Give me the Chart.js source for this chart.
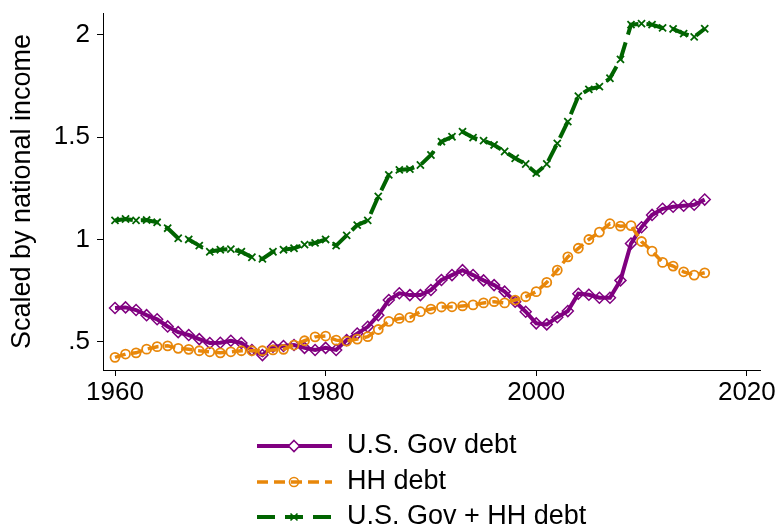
<!DOCTYPE html>
<html>
<head>
<meta charset="utf-8">
<script src="https://cdn.jsdelivr.net/npm/chart.js"></script>
<style>
  html, body { margin: 0; padding: 0; background: #fff; }
  canvas { display: block; }
</style>
</head>
<body>
<canvas id="chart" width="778" height="531"></canvas>
<script>
// years on the x axis
const years = [
  1960, 1961, 1962, 1963, 1964, 1965, 1966, 1967, 1968, 1969,
  1970, 1971, 1972, 1973, 1974, 1975, 1976, 1977, 1978, 1979,
  1980, 1981, 1982, 1983, 1984, 1985, 1986, 1987, 1988, 1989,
  1990, 1991, 1992, 1993, 1994, 1995, 1996, 1997, 1998, 1999,
  2000, 2001, 2002, 2003, 2004, 2005, 2006, 2007, 2008, 2009,
  2010, 2011, 2012, 2013, 2014, 2015, 2016
];

// U.S. Gov debt (scaled by national income)
const govDebt = [
  0.665, 0.668, 0.655, 0.630, 0.610, 0.575, 0.547, 0.533, 0.513, 0.494,
  0.495, 0.505, 0.494, 0.460, 0.435, 0.476, 0.479, 0.484, 0.470, 0.460,
  0.470, 0.460, 0.508, 0.540, 0.573, 0.630, 0.704, 0.737, 0.728, 0.728,
  0.753, 0.802, 0.826, 0.850, 0.826, 0.800, 0.777, 0.745, 0.696, 0.647,
  0.590, 0.585, 0.620, 0.650, 0.735, 0.730, 0.715, 0.715, 0.800, 0.980,
  1.060, 1.120, 1.150, 1.160, 1.165, 1.170, 1.195
];

// HH debt
const hhDebt = [
  0.424, 0.440, 0.446, 0.464, 0.476, 0.480, 0.468, 0.463, 0.456, 0.451,
  0.446, 0.451, 0.456, 0.456, 0.456, 0.460, 0.463, 0.484, 0.505, 0.524,
  0.528, 0.508, 0.503, 0.513, 0.525, 0.560, 0.600, 0.614, 0.619, 0.647,
  0.660, 0.670, 0.671, 0.675, 0.680, 0.690, 0.696, 0.690, 0.704, 0.720,
  0.745, 0.790, 0.850, 0.915, 0.957, 1.000, 1.036, 1.077, 1.065, 1.068,
  0.990, 0.943, 0.888, 0.870, 0.842, 0.826, 0.837
];

// U.S. Gov + HH debt
const totalDebt = [
  1.093, 1.100, 1.093, 1.095, 1.084, 1.055, 1.006, 1.000, 0.970, 0.940,
  0.950, 0.953, 0.940, 0.913, 0.905, 0.940, 0.950, 0.957, 0.975, 0.983,
  1.000, 0.970, 1.020, 1.070, 1.093, 1.210, 1.316, 1.340, 1.344, 1.364,
  1.413, 1.478, 1.502, 1.527, 1.498, 1.483, 1.462, 1.430, 1.397, 1.369,
  1.324, 1.369, 1.470, 1.576, 1.701, 1.734, 1.747, 1.788, 1.880, 2.050,
  2.055, 2.050, 2.034, 2.029, 2.006, 1.990, 2.030
];

const xTicks = [1960, 1980, 2000, 2020];
const yTicks = [0.5, 1, 1.5, 2];
const seriesNames = ["U.S. Gov debt", "HH debt", "U.S. Gov + HH debt"];

const FONT = "'Liberation Sans', Arial, sans-serif";
const PURPLE = "#800080";
const ORANGE = "#e8870a";
const GREEN = "#006400";

Chart.defaults.font.family = FONT;
Chart.defaults.color = "#000";

function pts(vals) {
  return years.map((y, i) => ({ x: y, y: vals[i] }));
}

// legend drawn below the plot, one entry per row
const stataLegend = {
  id: "stataLegend",
  afterDraw(chart) {
    const ctx = chart.ctx;
    const rows = [446, 482, 517];
    const x0 = 257, x1 = 332, mx = 294, tx = 347;
    const styles = [
      { color: PURPLE, width: 4, dash: [], marker: "diamond" },
      { color: ORANGE, width: 3.5, dash: [11, 6], marker: "circle" },
      { color: GREEN, width: 4, dash: [18, 10], marker: "cross" }
    ];
    ctx.save();
    styles.forEach((s, i) => {
      const y = rows[i];
      ctx.strokeStyle = s.color;
      ctx.lineWidth = s.width;
      ctx.setLineDash(s.dash);
      ctx.beginPath();
      ctx.moveTo(x0, y);
      ctx.lineTo(x1, y);
      ctx.stroke();
      ctx.setLineDash([]);
      ctx.lineWidth = 1.6;
      ctx.beginPath();
      if (s.marker === "diamond") {
        ctx.fillStyle = "#fff";
        ctx.moveTo(mx, y - 5.5);
        ctx.lineTo(mx + 5.5, y);
        ctx.lineTo(mx, y + 5.5);
        ctx.lineTo(mx - 5.5, y);
        ctx.closePath();
        ctx.fill();
        ctx.stroke();
      } else if (s.marker === "circle") {
        ctx.arc(mx, y, 4.5, 0, Math.PI * 2);
        ctx.stroke();
      } else {
        ctx.moveTo(mx - 3.5, y - 3.5); ctx.lineTo(mx + 3.5, y + 3.5);
        ctx.moveTo(mx - 3.5, y + 3.5); ctx.lineTo(mx + 3.5, y - 3.5);
        ctx.stroke();
      }
      ctx.fillStyle = "#000";
      ctx.font = "27px " + FONT;
      ctx.textBaseline = "middle";
      ctx.textAlign = "left";
      ctx.fillText(seriesNames[i], tx, y);
    });
    ctx.restore();
  }
};

new Chart(document.getElementById("chart"), {
  type: "line",
  data: {
    datasets: [
      {
        label: seriesNames[0],
        data: pts(govDebt),
        borderColor: PURPLE,
        borderWidth: 4,
        pointStyle: "rectRot",
        pointRadius: 5.5,
        pointBorderWidth: 1.5,
        pointBorderColor: PURPLE,
        pointBackgroundColor: "rgba(0,0,0,0)",
        order: 3
      },
      {
        label: seriesNames[1],
        data: pts(hhDebt),
        borderColor: ORANGE,
        borderWidth: 3.5,
        borderDash: [11, 6],
        pointStyle: "circle",
        pointRadius: 4.5,
        pointBorderWidth: 1.8,
        pointBorderColor: ORANGE,
        pointBackgroundColor: "rgba(0,0,0,0)",
        order: 2
      },
      {
        label: seriesNames[2],
        data: pts(totalDebt),
        borderColor: GREEN,
        borderWidth: 4,
        borderDash: [18, 8],
        pointStyle: "crossRot",
        pointRadius: 5,
        pointBorderWidth: 1.8,
        pointBorderColor: GREEN,
        order: 1
      }
    ]
  },
  options: {
    responsive: false,
    animation: false,
    devicePixelRatio: 1,
    layout: { padding: { top: 13, right: 18, bottom: 121, left: 0 } },
    plugins: {
      legend: { display: false },
      tooltip: { enabled: false }
    },
    elements: { line: { tension: 0, fill: false } },
    scales: {
      x: {
        type: "linear",
        min: 1958.86,
        max: 2021.25,
        afterBuildTicks: s => { s.ticks = xTicks.map(v => ({ value: v })); },
        afterFit: s => { s.height = 40; s.paddingLeft = 0; s.paddingRight = 0; },
        grid: { drawOnChartArea: false, drawTicks: true, tickLength: 6, tickColor: "#000" },
        border: { display: true, color: "#000", width: 1 },
        ticks: { font: { size: 26 }, color: "#000", padding: 1, maxRotation: 0,
                 callback: v => String(v) }
      },
      y: {
        type: "linear",
        min: 0.362,
        max: 2.107,
        afterBuildTicks: s => { s.ticks = yTicks.map(v => ({ value: v })); },
        afterFit: s => { s.width = 103; s.paddingTop = 0; s.paddingBottom = 0; },
        grid: { drawOnChartArea: false, drawTicks: true, tickLength: 6, tickColor: "#000" },
        border: { display: true, color: "#000", width: 1 },
        ticks: { font: { size: 26 }, color: "#000", padding: 7,
                 callback: v => (v === 0.5 ? ".5" : String(v)) },
        title: { display: true, text: "Scaled by national income",
                 font: { size: 27 }, color: "#000", padding: { top: 6, bottom: 0 } }
      }
    }
  },
  plugins: [stataLegend]
});
</script>
</body>
</html>
